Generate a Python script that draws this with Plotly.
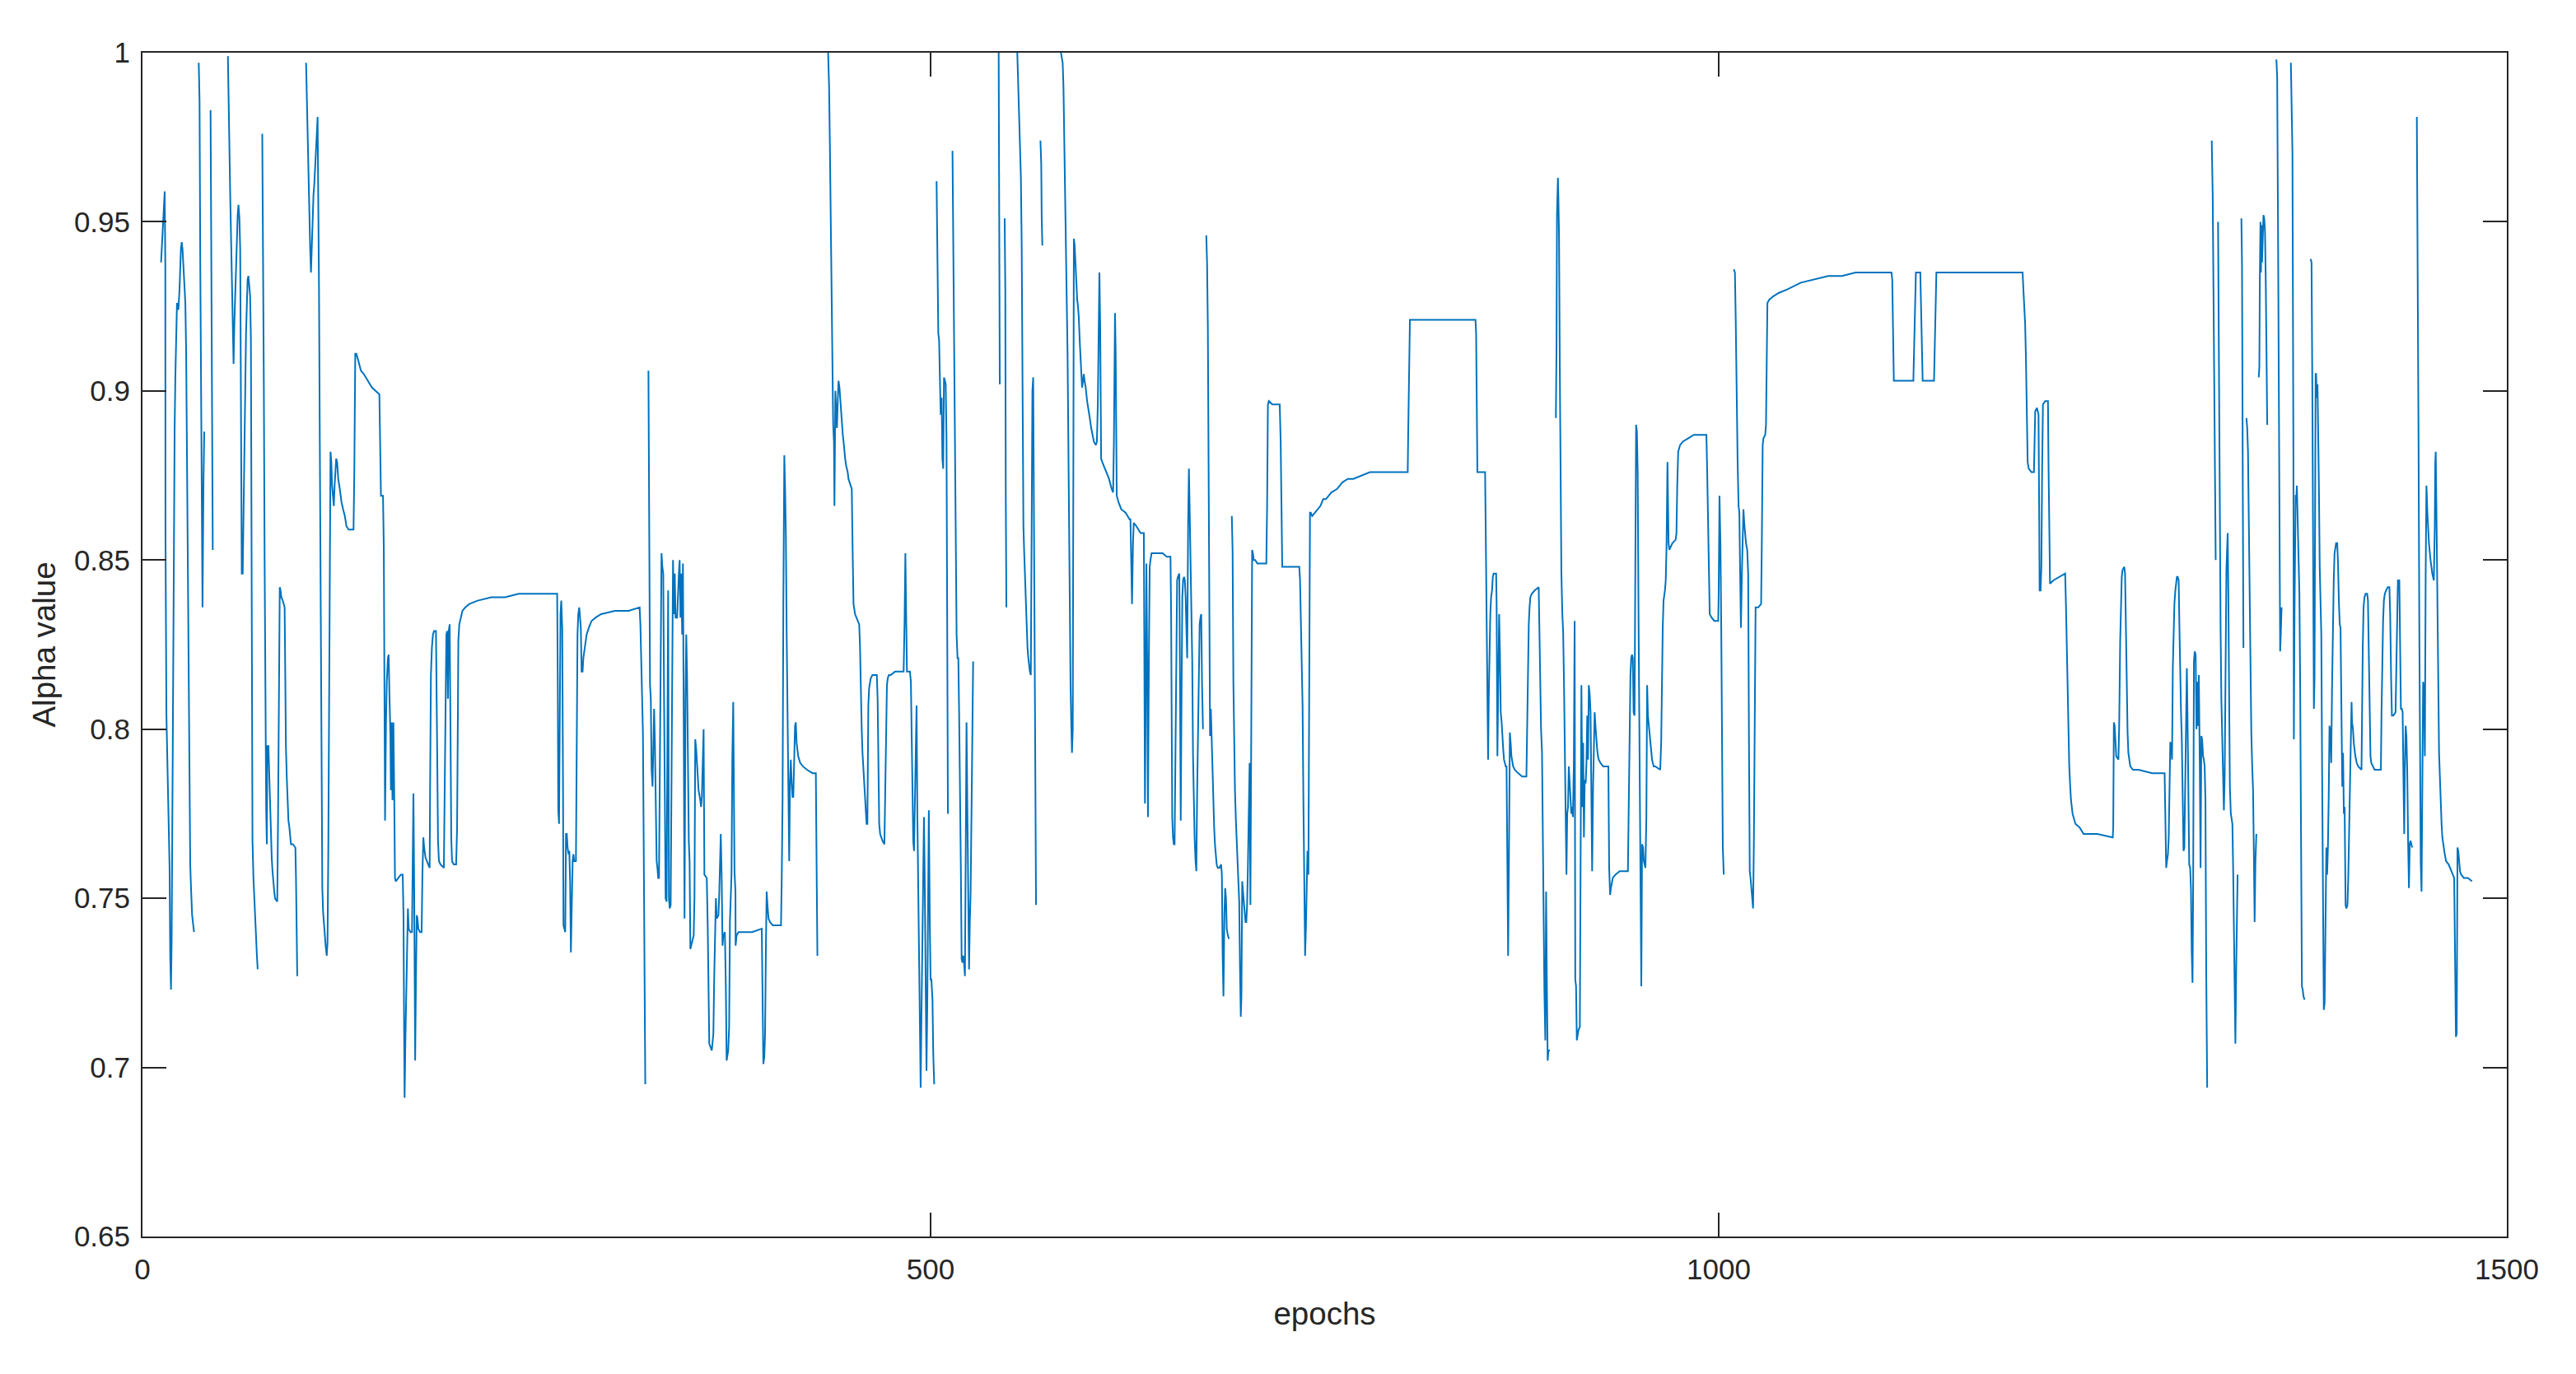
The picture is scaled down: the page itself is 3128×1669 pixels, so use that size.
import plotly.graph_objects as go

# ---------------- data (epoch, alpha value); None marks a break in the recorded line ----------------
epochs_1 = [
    11.8, 13.4, 14.1, 14.5, 14.6, 15.2, 15.7, 16.2,
    16.7, 17.2, 17.6, 18.1, 18.5, 18.8, 19.3, 19.9,
    20.4, 20.9, 21.4, 21.9, 22.8, 23.5, 24.4, 24.9,
    25.4, 26.0, 26.6, 27.2, 27.7, 28.2, 28.7, 29.3,
    29.8, 30.3, 30.8, 31.5, 32.7, None,
    35.7, 36.2, 36.7, 37.3, 37.8, 38.1, 38.7, 39.2, None,
    43.2, 43.7, 44.2, 44.6, None,
    54.2, 54.7, 55.2, 55.7, 56.3, 56.8, 57.3, 57.8,
    58.3, 58.9, 59.4, 59.9, 60.4, 60.9, 61.5, 62.0,
    62.5, 63.0, 63.6, 64.1, 64.6, 65.1, 65.7, 66.2,
    66.7, 67.2, 67.7, 68.3, 68.8, 69.3, 69.8, 70.4,
    70.9, 71.6, 72.1, 72.6, 73.1, None,
    76.0, 76.5, 77.0, 77.5, 78.0, 78.5, 78.9, 79.2,
    79.9, 80.5, 81.0, 81.5, 82.0, 82.5, 83.1, 83.6,
    84.1, 85.5, 86.0, 86.6, 87.1, 87.6, 88.1, 89.0,
    90.2, 90.6, 91.0, 91.6, 92.1, 92.6, 93.2, 93.7,
    94.2, 95.4, 97.0, 97.4, 97.7, 98.2, None,
    103.8, 104.3, 104.8, 105.4, 105.9, 106.4, 106.9, 107.5,
    108.0, 108.5, 109.0, 109.5, 110.1, 110.6, 111.1, 111.5,
    112.0, 112.5, 113.0, 113.5, 114.1, 114.6, 115.1, 115.6,
    116.2, 116.9, 117.4, 117.9, 118.4, 118.9, 119.3, 119.8,
    120.3, 120.9, 121.4, 121.9, 122.4, 122.9, 123.5, 124.2,
    125.2, 126.3, 127.3, 128.4, 129.4, 130.8, 133.9, 134.4,
    135.0, 135.7, 136.9, 138.6, 140.4, 143.0, 145.6, 150.3,
    150.8, 151.3, 152.6, 153.1, 153.6, 153.9, 154.5, 155.0,
    155.7, 156.2, 156.7, 157.3, 157.6, 158.1, 158.6, 159.2,
    159.7, 160.2, 160.7, 162.1, 163.9, 165.1, 165.6, 166.0,
    166.3, 166.8, 167.4, 167.9, 168.4, 168.9, 170.0, 171.0,
    171.4, 171.9, 172.4, 173.0, 173.5, 174.0, 174.5, 175.0,
    176.1, 177.1, 177.6, 178.2, 178.7, 179.6, 181.3, 182.2,
    182.5, 183.0, 183.6, 184.3, 185.0, 186.2,
]
alpha_1 = [
    0.938, 0.953, 0.959, 0.937, 0.858, 0.804, 0.792, 0.782,
    0.775, 0.759, 0.733, 0.723, 0.737, 0.761, 0.808, 0.865,
    0.889, 0.905, 0.915, 0.926, 0.924, 0.930, 0.942, 0.944,
    0.942, 0.936, 0.929, 0.926, 0.912, 0.882, 0.845, 0.797,
    0.771, 0.760, 0.753, 0.745, 0.740, None,
    0.997, 0.986, 0.936, 0.890, 0.857, 0.836, 0.873, 0.888, None,
    0.983, 0.929, 0.862, 0.853, None,
    0.999, 0.982, 0.969, 0.957, 0.943, 0.928, 0.917, 0.908,
    0.920, 0.931, 0.939, 0.946, 0.952, 0.955, 0.951, 0.942,
    0.870, 0.846, 0.846, 0.862, 0.889, 0.905, 0.917, 0.925,
    0.933, 0.934, 0.931, 0.928, 0.915, 0.837, 0.767, 0.756,
    0.750, 0.745, 0.740, 0.733, 0.729, None,
    0.976, 0.947, 0.901, 0.849, 0.795, 0.776, 0.766, 0.795,
    0.795, 0.784, 0.775, 0.768, 0.762, 0.758, 0.754, 0.752,
    0.750, 0.749, 0.773, 0.823, 0.842, 0.841, 0.839, 0.838,
    0.836, 0.816, 0.795, 0.785, 0.778, 0.773, 0.771, 0.768,
    0.766, 0.766, 0.765, 0.756, 0.736, 0.727, None,
    0.997, 0.985, 0.973, 0.961, 0.951, 0.942, 0.935, 0.946,
    0.951, 0.958, 0.961, 0.967, 0.971, 0.976, 0.981, 0.961,
    0.930, 0.885, 0.833, 0.792, 0.753, 0.746, 0.742, 0.739,
    0.736, 0.733, 0.737, 0.764, 0.796, 0.849, 0.882, 0.879,
    0.872, 0.869, 0.866, 0.872, 0.877, 0.880, 0.879, 0.874,
    0.871, 0.867, 0.865, 0.863, 0.860, 0.859, 0.859, 0.876,
    0.911, 0.911, 0.909, 0.906, 0.905, 0.903, 0.901, 0.899,
    0.883, 0.869, 0.869, 0.854, 0.804, 0.773, 0.802, 0.814,
    0.821, 0.822, 0.810, 0.798, 0.782, 0.802, 0.779, 0.802,
    0.782, 0.756, 0.755, 0.756, 0.757, 0.757, 0.745, 0.711,
    0.691, 0.708, 0.721, 0.739, 0.747, 0.741, 0.740, 0.740,
    0.758, 0.781, 0.752, 0.702, 0.726, 0.745, 0.744, 0.741,
    0.740, 0.740, 0.757, 0.768, 0.765, 0.762, 0.760, 0.759,
    0.784, 0.816, 0.824, 0.828, 0.829, 0.829,
]

epochs_2 = [
    187.0, 187.5, 188.1, 189.1, 191.2, 191.7, 192.2, 192.8,
    193.3, 193.8, 194.3, 194.9, 195.4, 195.9, 196.4, 197.5,
    199.0, 199.6, 200.1, 200.4, 201.0, 201.8, 203.0, 204.8,
    207.4, 212.6, 221.3, 230.0, 238.7, 247.5, 256.2, 263.1,
    263.5, 263.8, 264.3, 264.7, 265.2, 265.7, 266.3, 266.8,
    267.1, 267.7, 268.2, 268.7, 269.2, 269.7, 270.3, 270.8,
    271.3, 271.8, 272.4, 272.9, 273.4, 273.9, 275.0, 275.5,
    276.0, 276.5, 277.1, 277.6, 278.1, 278.6, 279.2, 279.7,
    280.2, 280.7, 281.8, 283.2, 284.9, 287.5, 291.0, 299.7,
    308.4, 315.4, 315.9, 316.4, 317.0, 317.5, 318.0, 318.5,
    319.0, None,
    321.0, 321.5, 322.0, 322.5, 323.0, 323.6, 324.1, 324.6,
    325.1, 325.7, 326.2, 326.7, 327.2, 327.7, 328.3, 328.8,
    329.3, 329.8, 330.4, 330.9, 331.4, 331.9, 332.5, 333.0,
    333.5, 334.0, 334.5, 335.1, 335.6, 336.1, 336.6, 337.2,
    337.7, 338.2, 339.2, 340.3, 340.8, 341.3, 341.8, 342.4,
    342.9, 343.4, 343.9, 344.5, 345.0, 345.5, 346.0, 346.6,
    347.1, 347.6, 348.1, 349.7, 350.2, 350.7, 351.3, 351.8,
    352.8, 353.9, 354.4, 354.9, 355.4, 356.0, 356.5, 358.0,
    358.6, 359.1, 359.6, 361.2, 361.7, 362.2, 362.7, 363.3,
    363.8, 364.3, 365.4, 365.9, 366.4, 366.9, 367.5, 368.0,
    368.5, 369.5, 370.1, 370.6, 371.6, 372.2, 372.7, 373.2,
    373.7, 374.2, 374.8,
]
alpha_2 = [
    0.792, 0.767, 0.761, 0.760, 0.759, 0.779, 0.813, 0.828,
    0.829, 0.809, 0.829, 0.831, 0.801, 0.768, 0.761, 0.760,
    0.760, 0.771, 0.804, 0.826, 0.831, 0.833, 0.835, 0.836,
    0.837, 0.838, 0.839, 0.839, 0.840, 0.840, 0.840, 0.840,
    0.812, 0.776, 0.772, 0.801, 0.834, 0.838, 0.830, 0.784,
    0.742, 0.741, 0.740, 0.769, 0.769, 0.765, 0.763, 0.764,
    0.755, 0.734, 0.752, 0.761, 0.763, 0.761, 0.761, 0.791,
    0.828, 0.834, 0.836, 0.833, 0.830, 0.817, 0.817, 0.821,
    0.823, 0.825, 0.828, 0.830, 0.832, 0.833, 0.834, 0.835,
    0.835, 0.836, 0.831, 0.821, 0.809, 0.799, 0.766, 0.713,
    0.695, None,
    0.906, 0.866, 0.813, 0.809, 0.788, 0.783, 0.797, 0.806,
    0.796, 0.779, 0.761, 0.759, 0.756, 0.756, 0.791, 0.828,
    0.852, 0.848, 0.846, 0.810, 0.761, 0.750, 0.749, 0.794,
    0.841, 0.750, 0.747, 0.748, 0.779, 0.817, 0.850, 0.834,
    0.846, 0.833, 0.833, 0.846, 0.850, 0.833, 0.846, 0.828,
    0.849, 0.800, 0.744, 0.809, 0.828, 0.816, 0.790, 0.767,
    0.761, 0.735, 0.736, 0.739, 0.750, 0.797, 0.794, 0.789,
    0.782, 0.779, 0.777, 0.780, 0.791, 0.800, 0.757, 0.756,
    0.742, 0.728, 0.707, 0.705, 0.708, 0.710, 0.726, 0.743,
    0.750, 0.744, 0.745, 0.751, 0.763, 0.769, 0.755, 0.736,
    0.739, 0.740, 0.724, 0.702, 0.705, 0.712, 0.743, 0.751,
    0.757, 0.791, 0.808,
]

epochs_3 = [
    375.6, 376.2, 376.3, 376.9, 378.1, 381.6, 386.8, 392.9,
    393.4, 393.9, 394.5, 395.0, 395.5, 396.0, 396.5, 397.2,
    398.1, 399.9, 402.5, 405.1, 405.6, 406.1, 406.6, 407.2,
    407.7, 408.2, 408.7, 409.3, 409.8, 410.3, 410.8, 411.3,
    411.9, 412.4, 412.9, 413.4, 414.0, 414.5, 415.0, 416.0,
    417.3, 419.0, 421.6, 425.1, 427.2, 427.7, 428.2, None,
    435.0, 435.6, 436.1, 436.6, 437.1, 437.6, 438.2, 438.7,
    439.0, 439.6, 440.1, 440.6, 441.1, 441.6, 442.2, 442.7,
    443.2, 443.7, 444.3, 444.8, 445.3, 445.8, 446.4, 446.9,
    447.4, 447.9, 448.6, 449.5, 450.0, 450.5, 451.1, 452.1,
    453.8, 454.7, 455.2, 455.8, 456.3, 456.8, 457.3, 457.8,
    458.4, 458.9, 459.4, 459.9, 460.5, 461.0, 461.5, 462.0,
    463.1, 465.2, 465.9, 466.4, 466.9, 467.4, 468.0, 468.6,
    469.5, 470.7, 471.3, 471.8, 472.3, 472.8, 473.5, 474.7,
    477.4, 480.8, 482.9, 483.5, 484.0, 484.5, 485.0, 486.1,
    486.9, 487.5, 488.0, 488.5, 489.0, 489.5, 490.1, 490.6,
    491.1, 491.6, 492.2, 492.7, 493.2, 493.7, 494.2, 494.8,
    495.3, 495.8, 496.3, 496.9, 497.4, 497.9, 498.4, 498.9,
    499.5, 500.0, 500.5, 501.2, 501.7, 502.3, None,
    503.8, 504.3, 504.9, 505.4, 505.9, 506.4, 507.0, 507.5,
    508.0, 508.5, 509.1, 509.6, 510.1, 510.6, 511.0, None,
    513.9, 514.4, 514.9, 515.5, 516.0, 516.5, 517.1, 517.6,
    518.1, 518.6, 519.2, 519.7, 520.2, 520.7, 521.2, 521.8,
    522.3, 522.8, 523.3, 523.9, 524.4, 524.9, 525.4, 526.0,
    526.5, 527.0, None,
    543.2, 543.5, 543.9, None,
    547.0, 547.4, 547.7, 548.1, None,
    555.0, 555.7, 556.2, 556.8, 557.3, 557.8, 558.3, 558.9,
    559.4, 559.9, 560.4, 561.0, 561.5, 562.0, 562.5, 563.0,
    563.6, 564.1, 564.6, 565.1, 565.7, 566.2, 566.7, 566.9, None,
    569.7, 570.2, 570.5, 570.9, None,
]
alpha_3 = [
    0.758, 0.752, 0.736, 0.739, 0.740, 0.740, 0.740, 0.741,
    0.719, 0.701, 0.703, 0.710, 0.735, 0.752, 0.748, 0.744,
    0.743, 0.742, 0.742, 0.742, 0.757, 0.780, 0.838, 0.881,
    0.871, 0.857, 0.828, 0.799, 0.774, 0.761, 0.784, 0.791,
    0.784, 0.780, 0.780, 0.788, 0.801, 0.802, 0.796, 0.792,
    0.790, 0.789, 0.788, 0.787, 0.787, 0.759, 0.733, None,
    1.000, 0.990, 0.973, 0.950, 0.926, 0.908, 0.890, 0.885,
    0.866, 0.900, 0.896, 0.889, 0.897, 0.903, 0.901, 0.897,
    0.894, 0.890, 0.887, 0.885, 0.882, 0.880, 0.878, 0.877,
    0.876, 0.874, 0.873, 0.872, 0.871, 0.854, 0.837, 0.834,
    0.832, 0.831, 0.825, 0.809, 0.800, 0.793, 0.789, 0.784,
    0.779, 0.774, 0.772, 0.772, 0.807, 0.812, 0.814, 0.815,
    0.816, 0.816, 0.816, 0.809, 0.782, 0.772, 0.769, 0.768,
    0.767, 0.766, 0.783, 0.802, 0.813, 0.815, 0.816, 0.816,
    0.817, 0.817, 0.817, 0.832, 0.852, 0.834, 0.817, 0.817,
    0.817, 0.814, 0.796, 0.774, 0.767, 0.764, 0.778, 0.796,
    0.807, 0.775, 0.755, 0.733, 0.713, 0.694, 0.715, 0.733,
    0.755, 0.774, 0.755, 0.729, 0.699, 0.718, 0.744, 0.776,
    0.743, 0.726, 0.726, 0.720, 0.704, 0.695, None,
    0.962, 0.938, 0.917, 0.915, 0.903, 0.893, 0.898, 0.880,
    0.877, 0.904, 0.903, 0.902, 0.886, 0.822, 0.775, None,
    0.971, 0.942, 0.911, 0.872, 0.846, 0.828, 0.821, 0.821,
    0.805, 0.788, 0.759, 0.732, 0.731, 0.733, 0.731, 0.727,
    0.774, 0.802, 0.778, 0.747, 0.729, 0.743, 0.752, 0.777,
    0.808, 0.820, None,
    1.000, 0.949, 0.902, None,
    0.951, 0.930, 0.869, 0.836, None,
    1.000, 0.987, 0.979, 0.971, 0.963, 0.943, 0.893, 0.860,
    0.852, 0.844, 0.838, 0.829, 0.824, 0.821, 0.818, 0.817,
    0.816, 0.854, 0.900, 0.904, 0.857, 0.808, 0.775, 0.748, None,
    0.974, 0.967, 0.951, 0.943, None,
]

epochs_4 = [
    582.7, 583.2, 583.8, 584.3, 584.8, 585.3, 585.9, 586.4,
    586.9, 587.4, 588.0, 588.5, 588.8, 589.2, 589.7, 590.2,
    590.6, 590.9, 591.4, 591.9, 592.5, 593.0, 593.5, 594.0,
    594.6, 595.1, 595.6, 596.1, 596.7, 597.2, 597.7, 598.4,
    599.3, 600.1, 601.0, 601.9, 602.8, 603.6, 604.8, 605.5,
    606.1, 606.6, 607.1, 607.6, 608.2, 608.9, 609.7, 611.5,
    613.2, 614.9, 615.8, 616.3, 616.7, 617.0, 617.4, 617.7,
    618.1, 619.3, 621.0, 623.7, 626.3, 626.8, 627.3, 627.8,
    628.4, 628.9, 630.6, 633.2, 635.3, 635.7, 636.0, 636.4,
    636.9, 637.4, 637.9, 638.5, 639.0, 639.5, 640.2, 641.9,
    644.6, 647.2, 649.8, 652.2, 652.6, 652.9, 653.3, 653.8,
    654.3, 654.8, 655.4, 655.9, 656.4, 656.9, 657.8, 658.3,
    658.7, 659.2, 659.7, 660.2, 660.8, 661.3, 661.8, 662.3,
    662.8, 663.4, 663.9, 664.4, 664.9, 665.5, 666.0, 666.5,
    667.0, 667.5, 668.1, 668.6, 669.1, 669.6, 670.2, 670.7,
    671.2, 671.7, 672.2, 672.8, None,
    674.9, 675.4, 675.9, 676.4, 677.0, 677.3, 677.8, 678.3,
    678.8, 679.4, 679.9, 680.4, 680.9, 681.5, 682.2, 683.2,
    684.3, 684.8, 685.3, 685.8, 686.4, 686.9, 687.4, 687.9,
    688.6, 689.3, None,
    691.1, 691.6, 692.1, 692.6, 693.1, 693.7, 694.2, 694.7,
    695.2, 695.8, 696.3, 696.8, 697.2, 697.7, 698.2, 698.7,
    699.2, 699.8, 700.3, 700.8, 701.3, 701.9, 702.4, 702.9,
    703.4, 704.0, 704.5, 705.0, 705.9, 707.3, 709.0, 710.7,
    713.0, 713.5, 714.0, 714.6, 716.8, 719.4, 721.5, 722.1,
    722.6, 723.1, 724.7, 728.2, 731.6, 733.9, 734.4, 734.9,
    735.5, 736.0, 736.5, 737.0, 737.6, 738.1, 738.6, 739.1,
    739.7, 740.2, 740.7, 741.2, 742.1, 743.8, 745.6, 747.3,
    749.1,
]
alpha_4 = [
    1.000, 0.999, 0.997, 0.990, 0.977, 0.961, 0.942, 0.926,
    0.911, 0.880, 0.847, 0.829, 0.813, 0.803, 0.793, 0.800,
    0.879, 0.945, 0.943, 0.937, 0.932, 0.927, 0.925, 0.922,
    0.915, 0.910, 0.903, 0.901, 0.903, 0.905, 0.903, 0.901,
    0.897, 0.894, 0.892, 0.889, 0.887, 0.885, 0.884, 0.885,
    0.896, 0.922, 0.935, 0.919, 0.880, 0.879, 0.878, 0.876,
    0.874, 0.871, 0.870, 0.885, 0.907, 0.923, 0.912, 0.884,
    0.869, 0.867, 0.865, 0.864, 0.862, 0.862, 0.852, 0.837,
    0.855, 0.861, 0.860, 0.858, 0.858, 0.817, 0.778, 0.805,
    0.849, 0.821, 0.774, 0.821, 0.848, 0.850, 0.852, 0.852,
    0.852, 0.852, 0.851, 0.851, 0.834, 0.796, 0.774, 0.768,
    0.766, 0.766, 0.793, 0.831, 0.844, 0.845, 0.846, 0.809,
    0.773, 0.809, 0.839, 0.844, 0.845, 0.844, 0.839, 0.830,
    0.821, 0.861, 0.877, 0.864, 0.852, 0.841, 0.820, 0.792,
    0.777, 0.768, 0.761, 0.758, 0.781, 0.800, 0.821, 0.831,
    0.833, 0.834, 0.814, 0.800, None,
    0.946, 0.938, 0.919, 0.879, 0.821, 0.798, 0.806, 0.798,
    0.784, 0.777, 0.771, 0.766, 0.763, 0.760, 0.759, 0.759,
    0.760, 0.757, 0.733, 0.721, 0.745, 0.753, 0.750, 0.741,
    0.739, 0.738, None,
    0.863, 0.853, 0.814, 0.791, 0.782, 0.773, 0.766, 0.761,
    0.756, 0.749, 0.729, 0.715, 0.721, 0.755, 0.752, 0.749,
    0.745, 0.743, 0.743, 0.748, 0.759, 0.784, 0.790, 0.748,
    0.792, 0.853, 0.852, 0.850, 0.850, 0.849, 0.849, 0.849,
    0.849, 0.866, 0.896, 0.897, 0.896, 0.896, 0.896, 0.885,
    0.860, 0.848, 0.848, 0.848, 0.848, 0.848, 0.844, 0.833,
    0.821, 0.807, 0.780, 0.747, 0.733, 0.741, 0.755, 0.764,
    0.757, 0.814, 0.864, 0.864, 0.863, 0.864, 0.865, 0.866,
    0.868,
]

epochs_5 = [
    750.8, 754.3, 757.8, 761.3, 764.7, 768.2, 773.4, 778.7,
    785.6, 794.3, 802.7, 803.0, 803.6, 804.1, 811.8, 820.5,
    829.2, 837.9, 844.8, 845.7, 846.1, 846.6, 846.9, 851.8,
    852.2, 852.7, 853.2, 853.7, 854.1, 854.6, 855.1, 855.6,
    856.2, 856.7, 857.2, 858.8, 859.1, 859.6, 860.2, 860.7,
    861.2, 861.7, 862.3, 862.8, 863.3, 863.8, 864.9, 865.4,
    865.9, 866.4, 867.0, 867.5, 868.0, 868.5, 869.6, 870.6,
    872.7, 875.3, 878.0, 878.5, 879.0, 879.5, 880.0, 880.5,
    881.4, 883.2, 885.8, 886.3, 886.8, 887.3, 887.9, 888.4,
    888.9, 889.4, 890.0, 890.5, 891.0, 891.5, 892.0, 892.9,
    None,
    896.7, 897.1, 897.4, 898.0, 898.3, 898.7, 899.2, 899.7,
    900.2, 900.8, 901.3, 901.8, 902.3, 902.9, 903.4, 903.9,
    904.4, 904.9, 905.5, 906.0, 906.5, 907.0, 907.5, 908.1,
    908.6, 909.0, 909.5, 910.0, 910.5, 911.0, 911.9, 912.4,
    912.9, 913.5, 914.0, 914.5, 915.0, 915.6, 916.1, 916.6,
    917.1, 917.6, 918.2, 918.7, 919.2, 919.7, 920.3, 920.8,
    921.3, 921.8, 922.3, 922.9, 923.4, 923.9, 925.0, 926.7,
    929.3, 930.0, 930.5, 931.1, 931.6, 932.8, 934.5, 937.2,
    942.4, 942.9, 943.4, 944.0, 944.5, 945.0, 945.5, 946.0,
    946.6, 947.1, 947.6, 948.1, 948.6, 949.2,
]
alpha_5 = [
    0.868, 0.870, 0.871, 0.873, 0.874, 0.874, 0.875, 0.876,
    0.876, 0.876, 0.876, 0.887, 0.911, 0.921, 0.921, 0.921,
    0.921, 0.921, 0.921, 0.921, 0.917, 0.893, 0.876, 0.876,
    0.861, 0.841, 0.817, 0.791, 0.809, 0.828, 0.834, 0.839,
    0.841, 0.845, 0.846, 0.846, 0.837, 0.792, 0.809, 0.834,
    0.823, 0.805, 0.802, 0.797, 0.794, 0.791, 0.789, 0.789,
    0.763, 0.733, 0.767, 0.799, 0.796, 0.792, 0.789, 0.788,
    0.787, 0.786, 0.786, 0.806, 0.825, 0.831, 0.836, 0.839,
    0.840, 0.841, 0.842, 0.829, 0.809, 0.800, 0.793, 0.768,
    0.737, 0.723, 0.708, 0.752, 0.724, 0.702, 0.705, 0.705,
    None,
    0.892, 0.913, 0.952, 0.963, 0.957, 0.946, 0.906, 0.858,
    0.846, 0.834, 0.829, 0.815, 0.800, 0.775, 0.757, 0.775,
    0.777, 0.789, 0.784, 0.777, 0.775, 0.777, 0.774, 0.790,
    0.832, 0.726, 0.724, 0.708, 0.710, 0.711, 0.712, 0.760,
    0.813, 0.777, 0.796, 0.768, 0.785, 0.784, 0.790, 0.804,
    0.791, 0.813, 0.810, 0.805, 0.767, 0.758, 0.783, 0.791,
    0.805, 0.801, 0.797, 0.794, 0.792, 0.791, 0.790, 0.789,
    0.789, 0.789, 0.759, 0.751, 0.753, 0.756, 0.757, 0.758,
    0.758, 0.776, 0.805, 0.816, 0.821, 0.822, 0.821, 0.805,
    0.804, 0.846, 0.890, 0.888, 0.876, 0.829,
]

epochs_6 = [
    949.9, 950.4, 950.9, 951.4, 952.0, 952.5, 953.0, 953.5,
    954.1, 954.6, 955.1, 955.6, 956.1, 956.7, 957.2, 957.7,
    958.2, 958.8, 959.8, 962.9, 963.5, 964.0, 964.5, 965.0,
    965.9, 966.4, 966.9, 967.5, 967.8, 968.2, 968.7, 970.6,
    972.7, 973.2, 973.7, 974.3, 975.5, 977.2, 980.7, 984.2,
    987.7, 991.7, 992.2, 992.7, 993.2, 993.8, 994.3, 995.5,
    997.2, 999.7, 1000.0, 1000.5, 1001.1, 1001.6, 1002.1, 1002.6,
    1003.2, None,
    1009.6, 1010.3, 1010.8, 1011.3, 1012.0, 1012.6, 1013.1, 1013.6,
    1014.1, 1014.7, 1015.2, 1015.7, 1016.2, 1016.7, 1017.3, 1018.1,
    1018.7, 1019.2, 1019.7, 1020.2, 1020.8, 1021.3, 1021.8, 1022.3,
    1022.8, 1023.4, 1025.1, 1026.9, 1027.4, 1027.9, 1028.4, 1029.5,
    1030.0, 1030.3, 1030.9, 1032.1, 1034.7, 1038.2, 1043.4, 1052.1,
    1060.8, 1069.5, 1078.2, 1086.9, 1095.6, 1104.4, 1109.6, 1110.1,
    1110.6, 1111.1, 1123.5, 1124.0, 1124.6, 1125.1, 1127.9, 1128.4,
    1128.9, 1129.4, 1136.6,
]
alpha_6 = [
    0.782, 0.749, 0.724, 0.766, 0.765, 0.761, 0.760, 0.759,
    0.774, 0.813, 0.804, 0.802, 0.799, 0.796, 0.793, 0.791,
    0.790, 0.789, 0.789, 0.788, 0.796, 0.816, 0.830, 0.838,
    0.841, 0.844, 0.854, 0.879, 0.870, 0.855, 0.853, 0.855,
    0.856, 0.858, 0.872, 0.882, 0.884, 0.885, 0.886, 0.887,
    0.887, 0.887, 0.887, 0.876, 0.863, 0.848, 0.834, 0.833,
    0.832, 0.832, 0.841, 0.869, 0.855, 0.831, 0.799, 0.765,
    0.757, None,
    0.936, 0.935, 0.921, 0.897, 0.879, 0.866, 0.864, 0.846,
    0.830, 0.846, 0.857, 0.865, 0.861, 0.858, 0.855, 0.853,
    0.846, 0.796, 0.758, 0.756, 0.753, 0.750, 0.747, 0.766,
    0.814, 0.836, 0.836, 0.837, 0.857, 0.884, 0.886, 0.887,
    0.890, 0.910, 0.926, 0.927, 0.928, 0.929, 0.930, 0.932,
    0.933, 0.934, 0.934, 0.935, 0.935, 0.935, 0.935, 0.933,
    0.918, 0.903, 0.903, 0.915, 0.923, 0.935, 0.935, 0.925,
    0.909, 0.903, 0.903,
]

epochs_7 = [
    1137.6, 1138.1, 1144.4, 1161.8, 1179.2, 1192.8, 1193.4, 1193.9,
    1194.4, 1194.9, 1195.4, 1196.0, 1196.7, 1198.4, 1200.0, 1200.3,
    1200.8, 1201.9, 1202.9, 1203.3, 1203.6, 1204.2, 1204.7, 1205.2,
    1205.7, 1207.1, 1208.9, 1209.2, 1209.7, 1210.2, 1212.3, 1215.8,
    1219.3, 1219.8, 1220.3, 1220.9, 1221.4, 1221.9, 1222.4, 1223.0,
    1223.5, 1224.5, 1226.3, 1228.9, 1231.5, 1240.2, 1250.0, 1250.3,
    1250.7, 1251.2, 1251.7, 1252.2, 1253.6, 1254.1, 1254.7, 1255.2,
    1255.7, 1256.2, 1257.3, 1257.8, 1258.3, 1258.8, 1259.4, 1259.9,
    1260.4, 1261.1, 1262.8, 1266.3, 1275.0, 1282.9, 1283.4, 1283.9,
    1284.4, 1285.0, 1285.5, 1286.0, 1286.5, 1287.1, 1287.6, 1288.1,
    1288.6, 1289.1, 1289.7, 1290.2, 1290.7, 1291.2, 1291.8, 1292.3,
    1292.8, 1293.3, 1293.8, 1294.4, 1294.9, 1295.4, 1295.9, 1296.5,
    1297.0, 1297.5, 1298.0, 1298.5, 1299.1, 1299.6, 1300.1, 1300.6,
    1301.0, 1301.5, 1302.0, 1302.6, 1303.1, 1303.6, 1304.1, 1304.6,
    1305.2, 1305.7, 1306.2, 1306.7, 1307.3, 1307.8, 1308.3, 1308.8,
    1309.3, 1309.9, None,
    1312.8, 1313.4, 1313.9, 1314.4, 1314.9, 1315.3, None,
]
alpha_7 = [
    0.926, 0.935, 0.935, 0.935, 0.935, 0.935, 0.929, 0.924,
    0.920, 0.910, 0.890, 0.879, 0.877, 0.876, 0.876, 0.884,
    0.894, 0.895, 0.893, 0.865, 0.841, 0.841, 0.848, 0.877,
    0.896, 0.897, 0.897, 0.880, 0.853, 0.843, 0.844, 0.845,
    0.846, 0.846, 0.837, 0.821, 0.808, 0.797, 0.789, 0.783,
    0.779, 0.775, 0.772, 0.771, 0.769, 0.769, 0.768, 0.771,
    0.802, 0.801, 0.796, 0.792, 0.791, 0.802, 0.826, 0.841,
    0.845, 0.847, 0.848, 0.846, 0.829, 0.807, 0.799, 0.793,
    0.791, 0.789, 0.788, 0.788, 0.787, 0.787, 0.773, 0.759,
    0.761, 0.763, 0.768, 0.783, 0.796, 0.796, 0.791, 0.818,
    0.830, 0.837, 0.841, 0.844, 0.845, 0.845, 0.844, 0.830,
    0.813, 0.805, 0.797, 0.781, 0.764, 0.765, 0.784, 0.813,
    0.818, 0.801, 0.771, 0.760, 0.759, 0.753, 0.734, 0.725,
    0.753, 0.820, 0.823, 0.822, 0.800, 0.814, 0.801, 0.816,
    0.790, 0.759, 0.798, 0.797, 0.792, 0.791, 0.789, 0.779,
    0.728, 0.694, None,
    0.974, 0.958, 0.930, 0.897, 0.860, 0.850, None,
]

epochs_8 = [
    1316.8, 1317.4, 1317.9, 1318.4, 1318.9, 1319.5, 1320.0, 1320.5,
    1321.0, 1321.5, 1322.1, 1322.6, 1322.9, 1323.3, 1323.8, 1324.3,
    1324.9, 1325.4, 1325.9, 1326.4, 1326.9, 1327.5, 1327.8, 1328.3,
    1328.9, 1329.2, None,
    1331.6, 1332.0, 1332.5, 1332.9, None,
    1334.8, 1335.3, 1335.8, 1336.3, 1336.9, 1337.4, 1337.9, 1338.4,
    1339.0, 1339.5, 1340.0, 1340.5, 1341.1, None,
    1342.6, 1343.0, 1343.3, 1343.7, 1344.0, 1344.4, 1344.7, 1345.1,
    1345.6, 1346.1, 1346.6, 1347.1, 1347.7, 1348.0, None,
    1353.8, 1354.3, 1354.8, 1355.3, 1355.9, 1356.2, 1356.6, 1357.1, None,
    1363.0, 1363.5, 1364.0, 1364.6, 1364.9, 1365.3, 1365.6, 1366.0,
    1366.5, 1366.8, 1367.3, 1367.9, 1368.4, 1368.9, 1369.4, 1370.0,
    1370.5, 1371.0, 1371.7, None,
    1375.5, 1376.1, 1376.6, 1376.9, 1377.3, 1377.6, 1378.0, 1378.3,
    1378.7, 1379.0, 1379.4, 1379.9, 1380.2, 1380.8, 1381.3, 1381.8,
    1382.3, 1382.8, 1383.4, 1383.9, 1384.4, 1384.9, 1385.5, 1386.0,
    1386.5, 1387.0, 1387.5, 1388.1, 1388.6, 1389.1, 1389.6, 1390.2,
    1390.7, 1391.2, 1391.7, 1392.4, 1392.9, 1393.5, 1394.0, 1394.5,
    1395.0, 1395.6, 1396.1, 1396.6, 1397.1, 1397.7, 1398.2, 1398.9,
    1399.4, 1399.9, 1400.4, 1400.9, 1401.5, 1401.8, 1402.4, 1402.9,
    1403.4, 1403.9, 1404.8, 1405.7, 1407.8, 1408.1, 1408.6, 1409.1,
    1409.7, 1410.4, 1411.4, 1411.9, 1412.5, 1413.0, 1413.5, 1414.0,
    1414.9, 1416.1, 1418.7, 1420.1, 1420.5, 1421.0, 1421.5, 1422.0,
    1422.6, 1423.4, 1424.5, 1425.5, 1426.0, 1426.6, 1427.1, 1428.0,
    1429.4, 1429.9, 1430.4, 1430.9, 1431.8, 1432.3, 1432.8, 1433.4,
    1433.9, 1434.4, 1434.9, 1435.3, 1435.8, 1436.3, 1436.8, 1437.4,
    1437.9, 1438.4, 1438.9, 1440.0, None,
    1442.9, 1443.5, 1444.0, 1444.5, 1445.0, 1445.4, 1445.9, 1446.4,
    1446.9, 1447.5, 1448.0, 1448.5, 1449.0, 1449.6, 1450.6, 1451.6,
    1452.7, 1453.7, 1454.3, 1454.6, 1454.9, 1455.5, 1456.0, 1456.5,
    1457.0, 1457.6, 1458.1, 1458.6, 1459.1, 1459.6, 1460.3, 1461.4,
    1463.1, 1464.9, 1466.6, 1467.1, 1467.7, 1468.2, 1468.7, 1469.2,
    1469.8, 1470.3, 1471.0, 1472.7, 1475.3, 1477.9,
]
alpha_8 = [
    0.950, 0.903, 0.853, 0.830, 0.809, 0.798, 0.788, 0.776,
    0.786, 0.821, 0.847, 0.854, 0.858, 0.841, 0.804, 0.783,
    0.775, 0.773, 0.772, 0.758, 0.739, 0.723, 0.707, 0.729,
    0.757, 0.757, None,
    0.951, 0.937, 0.871, 0.824, None,
    0.892, 0.889, 0.882, 0.862, 0.832, 0.813, 0.799, 0.790,
    0.782, 0.764, 0.743, 0.761, 0.769, None,
    0.904, 0.907, 0.933, 0.950, 0.935, 0.949, 0.938, 0.945,
    0.952, 0.951, 0.947, 0.931, 0.903, 0.890, None,
    0.998, 0.993, 0.952, 0.909, 0.858, 0.823, 0.828, 0.836, None,
    0.997, 0.984, 0.970, 0.881, 0.797, 0.834, 0.864, 0.869,
    0.869, 0.872, 0.862, 0.848, 0.840, 0.813, 0.753, 0.724,
    0.723, 0.721, 0.720, None,
    0.939, 0.938, 0.902, 0.866, 0.833, 0.806, 0.815, 0.869,
    0.905, 0.905, 0.898, 0.902, 0.886, 0.871, 0.848, 0.834,
    0.828, 0.789, 0.733, 0.717, 0.719, 0.740, 0.765, 0.757,
    0.765, 0.780, 0.801, 0.799, 0.790, 0.812, 0.831, 0.844,
    0.852, 0.854, 0.855, 0.855, 0.849, 0.837, 0.831, 0.830,
    0.810, 0.783, 0.793, 0.775, 0.777, 0.748, 0.747, 0.748,
    0.756, 0.768, 0.783, 0.797, 0.808, 0.802, 0.800, 0.796,
    0.793, 0.792, 0.790, 0.789, 0.788, 0.804, 0.824, 0.836,
    0.839, 0.840, 0.840, 0.838, 0.817, 0.801, 0.792, 0.790,
    0.789, 0.788, 0.788, 0.788, 0.805, 0.825, 0.832, 0.838,
    0.840, 0.841, 0.842, 0.842, 0.834, 0.815, 0.804, 0.804,
    0.805, 0.818, 0.830, 0.844, 0.844, 0.826, 0.806, 0.806,
    0.805, 0.786, 0.769, 0.788, 0.801, 0.798, 0.788, 0.766,
    0.753, 0.766, 0.767, 0.765, None,
    0.981, 0.937, 0.885, 0.828, 0.771, 0.760, 0.752, 0.786,
    0.814, 0.812, 0.792, 0.845, 0.872, 0.864, 0.855, 0.850,
    0.846, 0.844, 0.860, 0.879, 0.882, 0.858, 0.831, 0.812,
    0.793, 0.785, 0.776, 0.772, 0.768, 0.766, 0.764, 0.761,
    0.760, 0.758, 0.756, 0.735, 0.709, 0.710, 0.765, 0.764,
    0.760, 0.758, 0.757, 0.756, 0.756, 0.755,
]

x_ticks = [0, 500, 1000, 1500]
y_ticks = [0.65, 0.7, 0.75, 0.8, 0.85, 0.9, 0.95, 1.0]
y_tick_labels = ["0.65", "0.7", "0.75", "0.8", "0.85", "0.9", "0.95", "1"]
x_label = "epochs"
y_label = "Alpha value"

# ---------------- assemble ----------------
parts = [(epochs_1, alpha_1), (epochs_2, alpha_2), (epochs_3, alpha_3), (epochs_4, alpha_4),
         (epochs_5, alpha_5), (epochs_6, alpha_6), (epochs_7, alpha_7), (epochs_8, alpha_8)]
epochs, alpha = [], []
for i, (ex, ay) in enumerate(parts, 1):
    if len(ex) != len(ay):
        raise ValueError(f"part {i}: {len(ex)} epochs vs {len(ay)} values")
    epochs += ex
    alpha += ay

AX = "#262626"
FONT = "Liberation Sans, Arial, Helvetica, sans-serif"

fig = go.Figure(go.Scatter(
    x=epochs, y=alpha, mode="lines",
    line=dict(color="#0072BD", width=2),
    connectgaps=False, hoverinfo="skip", showlegend=False,
))

axis_common = dict(
    showline=True, linecolor=AX, linewidth=2, mirror="ticks",
    ticks="inside", ticklen=29, tickwidth=2, tickcolor=AX,
    showgrid=False, zeroline=False,
    tickfont=dict(family=FONT, size=35, color=AX),
)

fig.update_layout(
    width=3128, height=1669,
    margin=dict(l=173, r=84, t=64, b=167, pad=0),
    paper_bgcolor="white", plot_bgcolor="white",
    font=dict(family=FONT, color=AX),
    xaxis=dict(range=[0, 1500], tickvals=x_ticks, ticktext=[str(v) for v in x_ticks],
               title=dict(text=x_label, font=dict(family=FONT, size=38.5, color=AX), standoff=22),
               ticklabelstandoff=8, **axis_common),
    yaxis=dict(range=[0.65, 1.0], tickvals=y_ticks, ticktext=y_tick_labels,
               title=dict(text=y_label, font=dict(family=FONT, size=38.5, color=AX), standoff=10),
               ticklabelstandoff=6, **axis_common),
)

fig.write_html("out.html", config={"displayModeBar": False},
               post_script="document.body.style.margin='0';document.body.style.overflow='hidden';")
